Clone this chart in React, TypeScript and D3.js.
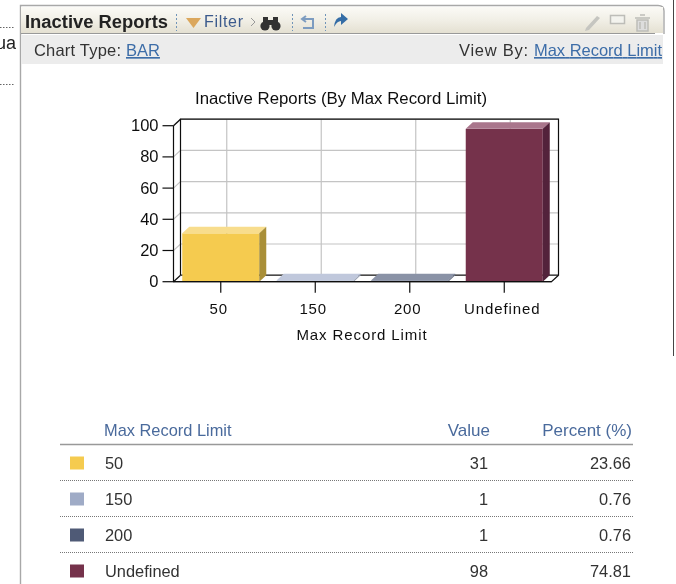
import React from "react";
import * as d3 from "d3";

const categories = ["50", "150", "200", "Undefined"];
const values = [31, 1, 1, 98];
const percents = ["23.66", "0.76", "0.76", "74.81"];
const yTicks = [0, 20, 40, 60, 80, 100];
const frontColors = ["#f5cb4f", "#c0c8dc", "#8a92a6", "#75304c"];
const topColors = ["#f8dd8d", "#c0c8dc", "#8a92a6", "#a9768c"];
const sideColors = ["#a98f38", "#9aa2b4", "#6a7286", "#52213a"];
const legendColors = ["#f5cb4f", "#9fabc6", "#4f5a76", "#75304c"];

const font = "'Liberation Sans', Arial, sans-serif";
const x0 = 173.5, x1 = 551.5, y0 = 281.7, yT = 125.7, dx = 7, dy = 6.5;
const x = d3.scaleBand<string>().domain(categories).range([x0, x1]).paddingInner(0.185).paddingOuter(0.0925);
const band = d3.scaleBand<string>().domain(categories).range([x0, x1]);
const y = d3.scaleLinear().domain([0, 100]).range([y0, yT]);
const poly = (p: number[][]) => p.map(q => q.join(",")).join(" ");

export default function App() {
  const bw = x.bandwidth();
  return (
    <svg width={676} height={584} style={{ position: "absolute", left: 0, top: 0 }} fontFamily={font}>
      <defs>
        <linearGradient id="hdr" x1="0" x2="0" y1="0" y2="1">
          <stop offset="0" stopColor="#fbfaf6" />
          <stop offset="0.5" stopColor="#f1efe6" />
          <stop offset="1" stopColor="#e4e0d2" />
        </linearGradient>
        <filter id="soft" x="0" y="0" width="100%" height="100%">
          <feGaussianBlur stdDeviation="0.35" />
        </filter>
      </defs>
      <rect width={676} height={584} fill="#fff" />
      <g filter="url(#soft)">
      {/* page edge */}
      <line x1={0} x2={15} y1={27.5} y2={27.5} stroke="#666" strokeDasharray="1.5 1.5" />
      <line x1={0} x2={15} y1={84.5} y2={84.5} stroke="#666" strokeDasharray="1.5 1.5" />
      <text x={-4} y={49} fontSize={18} fill="#222">ua</text>
      <line x1={673.5} x2={673.5} y1={0} y2={356} stroke="#444" />
      {/* panel */}
      <path d="M20.5 584V5.500H658Q664 5.500 664 11V34" fill="none" stroke="#a8a8a8" strokeWidth={1.4} />
      <rect x={21} y={7} width={642} height={26} fill="url(#hdr)" />
      <line x1={21} x2={655} y1={33.5} y2={33.5} stroke="#999" />
      <rect x={21} y={35} width={642} height={29} fill="#ececec" />
      <text x={25} y={28} fontSize={18} fontWeight={700} fill="#222" textLength={143} lengthAdjust="spacingAndGlyphs">Inactive Reports</text>
      {[176, 292, 325].map(v => <line key={v} x1={v + 0.5} x2={v + 0.5} y1={14} y2={31} stroke="#6f94b8" strokeDasharray="2 2" />)}
      <path d="M186 18H201L193.500 28Z" fill="#dba75c" />
      <text x={204} y={27} fontSize={16} fill="#3b5a8c" textLength={39} lengthAdjust="spacing">Filter</text>
      <path d="M251 18L255 22L251 26" fill="none" stroke="#999" />
      <g fill="#333">
        <circle cx={265} cy={26} r={4.6} /><circle cx={276} cy={26} r={4.6} />
        <rect x={263} y={17} width={5} height={7} /><rect x={273} y={17} width={5} height={7} /><rect x={268} y={20} width={5} height={5} />
      </g>
      <path d="M302 19H313V28H303M306 16L302 19L306 22" fill="none" stroke="#7d9cc0" strokeWidth={2} />
      <path d="M334 27Q335 17 341 17V13L348 19L341 25V21Q337 21 334 27Z" fill="#356da6" />
      <path d="M586 28L597 16L600 18L589 30L585 31Z" fill="#c5c5c0" />
      <rect x={610.500} y={15.500} width={14} height={8} fill="#f3f3ee" stroke="#bdbdb8" strokeWidth={1.5} />
      <path d="M635 18H650M637 20H648V31H637Z M640 22V29M645 22V29M640 15H645" fill="#ddd" stroke="#bdbdb8" strokeWidth={1.5} />
      <text x={34} y={56} fontSize={16.500} fill="#333" textLength={87} lengthAdjust="spacing">Chart Type:</text>
      <text x={126} y={56} fontSize={16.500} fill="#3d6da8" textDecoration="underline">BAR</text>
      <text x={459} y={56} fontSize={16.500} fill="#333" textLength={69} lengthAdjust="spacing">View By:</text>
      <text x={534} y={56} fontSize={16.500} fill="#3d6da8" textLength={128} lengthAdjust="spacing" textDecoration="underline">Max Record Limit</text>

      {/* chart */}
      <text x={341} y={104} fontSize={16.500} fill="#111" textAnchor="middle" textLength={292} lengthAdjust="spacingAndGlyphs">Inactive Reports (By Max Record Limit)</text>
      {yTicks.slice(1).map(t => (
        <g key={t} stroke="#c4c4c4" strokeWidth={1.2} fill="none">
          <polyline points={poly([[x0, y(t)], [x0 + dx, y(t) - dy], [x1 + dx, y(t) - dy]])} />
        </g>
      ))}
      {categories.map(c => {
        const gx = band(c)! + band.bandwidth() / 2 + dx - 1;
        return <line key={c} x1={gx} x2={gx} y1={yT - dy} y2={y0 - dy} stroke="#c4c4c4" strokeWidth={1.2} />;
      })}
      <g fill="none" stroke="#111" strokeWidth={1.2}>
        <polyline points={poly([[x0 + dx, y0 - dy], [x0 + dx, yT - dy], [x1 + dx, yT - dy], [x1 + dx, y0 - dy], [x0 + dx, y0 - dy]])} />
        <polyline points={poly([[x0, yT], [x0, y0], [x1, y0], [x1 + dx, y0 - dy]])} />
        <line x1={x0} y1={y0} x2={x0 + dx} y2={y0 - dy} />
        <line x1={x0} y1={yT} x2={x0 + dx} y2={yT - dy} />
      </g>
      {yTicks.map(t => (
        <g key={t}>
          <line x1={x0 - 11} x2={x0} y1={y(t)} y2={y(t)} stroke="#111" strokeWidth={1.2} />
          <text x={x0 - 15} y={y(t) + 5.5} fontSize={16.500} fill="#111" textAnchor="end">{t}</text>
        </g>
      ))}
      {categories.map((c, i) => {
        const bx = x(c)!, top = y(values[i]);
        return (
          <g key={c}>
            <rect x={bx} y={top} width={bw} height={y0 - top} fill={frontColors[i]} />
            <polygon points={poly([[bx, top], [bx + dx, top - dy], [bx + bw + dx, top - dy], [bx + bw, top]])} fill={topColors[i]} />
            <polygon points={poly([[bx + bw, top], [bx + bw + dx, top - dy], [bx + bw + dx, y0 - dy], [bx + bw, y0]])} fill={sideColors[i]} />
            <line x1={band(c)! + band.bandwidth() / 2} x2={band(c)! + band.bandwidth() / 2} y1={y0} y2={y0 + 11} stroke="#111" strokeWidth={1.2} />
            <text x={band(c)! + band.bandwidth() / 2 - 2} y={314} fontSize={15} letterSpacing={0.9} fill="#111" textAnchor="middle">{c}</text>
          </g>
        );
      })}
      <line x1={x0} x2={x1} y1={y0} y2={y0} stroke="#111" strokeWidth={1.2} />
      <text x={362} y={340} fontSize={15} letterSpacing={0.9} fill="#111" textAnchor="middle">Max Record Limit</text>

      {/* table */}
      <text x={104} y={435.500} fontSize={16.400} fill="#4a6a9c">Max Record Limit</text>
      <text x={490} y={435.500} fontSize={17} fill="#4a6a9c" textAnchor="end">Value</text>
      <text x={632} y={435.500} fontSize={17} fill="#4a6a9c" textAnchor="end">Percent (%)</text>
      <line x1={60} x2={633} y1={444.5} y2={444.5} stroke="#999" strokeWidth={1.5} />
      {categories.map((c, i) => {
        const ry = 463 + i * 36;
        return (
          <g key={c}>
            <rect x={70} y={ry - 6.500} width={14} height={13} fill={legendColors[i]} />
            <text x={105} y={ry + 5.5} fontSize={16.400} fill="#333">{c}</text>
            <text x={488} y={ry + 5.5} fontSize={16.400} fill="#333" textAnchor="end">{values[i]}</text>
            <text x={631} y={ry + 5.5} fontSize={16.400} fill="#333" textAnchor="end">{percents[i]}</text>
            {i < 3 && <line x1={60} x2={633} y1={ry + 17.5} y2={ry + 17.5} stroke="#777" strokeDasharray="1 1" />}
          </g>
        );
      })}
      </g>
    </svg>
  );
}
